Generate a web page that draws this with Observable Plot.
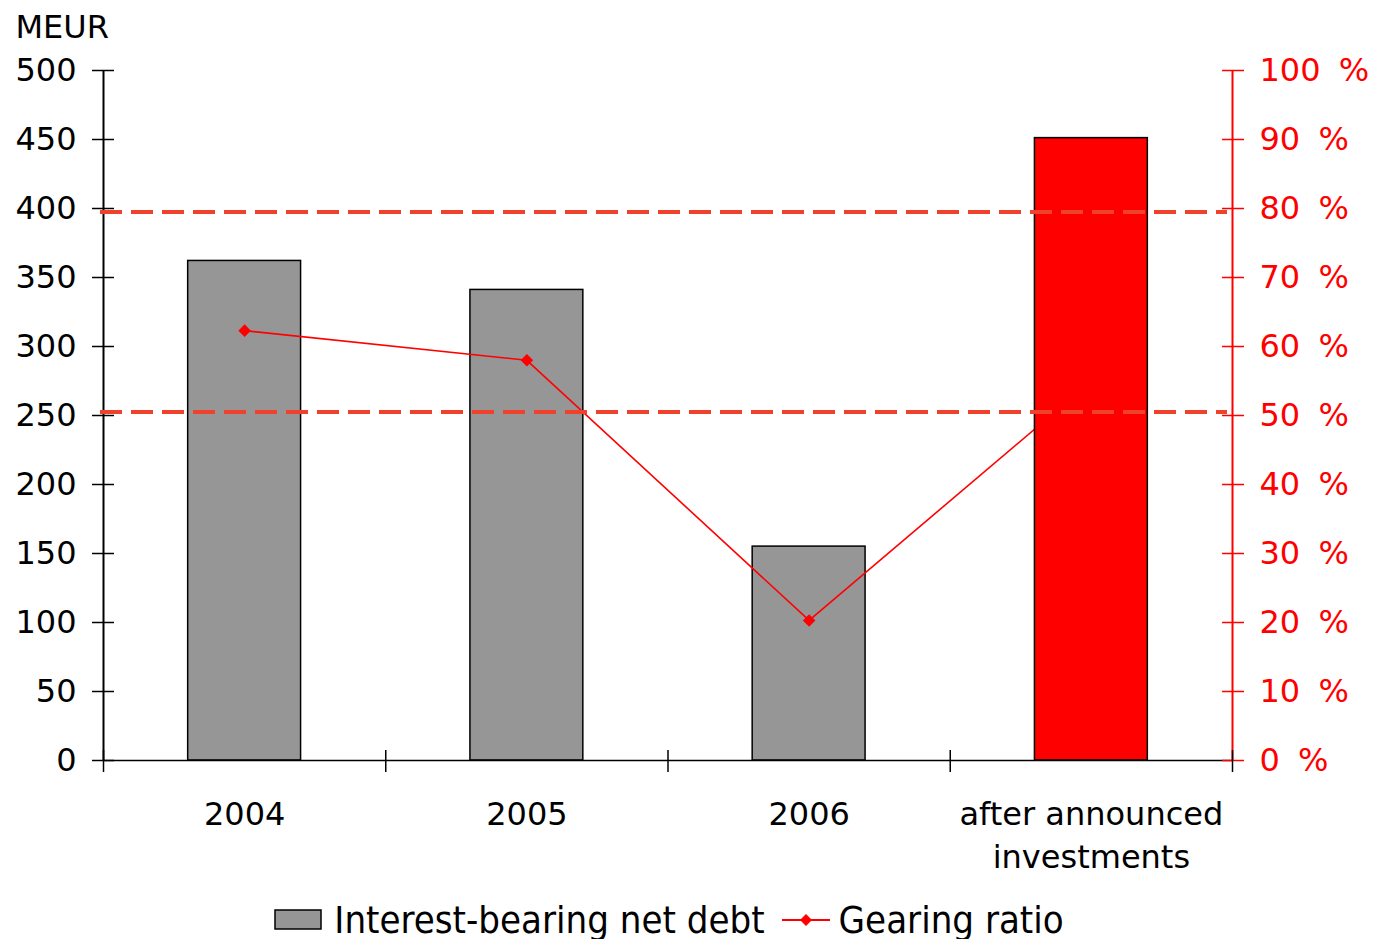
<!DOCTYPE html>
<html>
<head>
<meta charset="utf-8">
<script src="https://cdn.jsdelivr.net/npm/d3@7"></script>
<script src="https://cdn.jsdelivr.net/npm/@observablehq/plot@0.6"></script>
<style>
  html, body { margin: 0; padding: 0; background: #fff; }
  #chart svg { display: block; }
  #chart svg .pct text { word-spacing: 8px; }
  #legend {
    width: 1376px; height: 49px; display: flex; justify-content: center; align-items: center;
    font-family: "DejaVu Sans Condensed", "DejaVu Sans", sans-serif; font-size: 38px; color: #000;
    padding-top: 10px; padding-right: 38px; box-sizing: border-box; line-height: 1;
  }
  #legend .item { display: flex; align-items: center; }
  #legend svg { display: block; }
</style>
</head>
<body>
<div id="chart"></div>
<div id="legend">
  <span class="item"><svg width="60" height="24"><rect x="1" y="2" width="46" height="19" fill="#969696" stroke="#000" stroke-width="1.5"/></svg><span>Interest-bearing net debt</span></span>
  <span class="item" style="margin-left:16px"><svg width="58" height="24"><line x1="1" y1="12" x2="49" y2="12" stroke="#ff0000" stroke-width="2"/><path d="M25 6 L31 12 L25 18 L19 12 Z" fill="#ff0000"/></svg><span>Gearing ratio</span></span>
</div>
<script>
const categories = ["2004", "2005", "2006", "after announced\ninvestments"];
const debt = [362, 341, 155, 451];          // MEUR
const gearing = [62.3, 58.0, 20.3, 55.0];   // %
const barColors = ["#969696", "#969696", "#969696", "#ff0000"];
const yTicks = [0, 50, 100, 150, 200, 250, 300, 350, 400, 450, 500];
const pctTicks = [0, 10, 20, 30, 40, 50, 60, 70, 80, 90, 100];
const thresholds = [79.5, 50.5];           // % (dashed reference lines)
const boundaries = [0, 1, 2, 3, 4];

const PCT = 5; // 100 % on the right axis = 500 MEUR on the left axis

const rows = categories.map((c, i) => ({
  cat: c, i, debt: debt[i], gearing: gearing[i], color: barColors[i]
}));
const greyRows = rows.filter(d => d.color !== "#ff0000");
const redRows = rows.filter(d => d.color === "#ff0000");

const font = "DejaVu Sans, sans-serif";

const chart = Plot.plot({
  width: 1376,
  height: 890,
  marginLeft: 103,
  marginRight: 144,
  marginTop: 70,
  marginBottom: 130,
  style: { fontFamily: font, fontSize: "32px", background: "#fff" },
  x: { domain: [0, 4], label: null },
  y: { domain: [0, 500], label: null },
  marks: [
    Plot.rectY(greyRows, {
      x1: d => d.i + 0.3, x2: d => d.i + 0.7, y1: 0, y2: "debt",
      fill: "color", stroke: "#000", strokeWidth: 1.5
    }),
    Plot.line(rows, {
      x: d => d.i + 0.5, y: d => d.gearing * PCT,
      stroke: "#ff0000", strokeWidth: 1.6
    }),
    Plot.dot(rows, {
      x: d => d.i + 0.5, y: d => d.gearing * PCT,
      symbol: "square", rotate: 45, fill: "#ff0000", r: 5
    }),
    Plot.rectY(redRows, {
      x1: d => d.i + 0.3, x2: d => d.i + 0.7, y1: 0, y2: "debt",
      fill: "color", stroke: "#000", strokeWidth: 1.5
    }),
    Plot.ruleY([0], { stroke: "#000", strokeWidth: 1.5 }),
    Plot.ruleX([0], { stroke: "#000", strokeWidth: 2 }),
    Plot.axisY({ anchor: "left", label: null, ticks: yTicks, tickSize: 22, dx: 11, tickFormat: () => "", stroke: "#000", strokeWidth: 1.5 }),
    Plot.axisY({ anchor: "left", label: null, ticks: yTicks, tickSize: 0, tickPadding: 27, tickFormat: d => String(d), fill: "#000", fontSize: 32 }),
    Plot.ruleX([4], { stroke: "#ff0000", strokeWidth: 2 }),
    Plot.axisY({ anchor: "right", label: null, ticks: pctTicks.map(p => p * PCT), tickSize: 22, dx: -11, tickFormat: () => "", stroke: "#ff0000", strokeWidth: 1.5 }),
    Plot.axisY({ anchor: "right", label: null, ticks: pctTicks.map(p => p * PCT), tickSize: 0, tickPadding: 27, tickFormat: d => `${d / PCT} %`, fill: "#ff0000", fontSize: 32, className: "pct" }),
    Plot.axisX({ anchor: "bottom", label: null, ticks: boundaries, tickSize: 22, dy: -10, tickFormat: () => "", stroke: "#000", strokeWidth: 1.5 }),
    Plot.text(rows, {
      x: d => d.i + 0.5, text: "cat", frameAnchor: "bottom", lineAnchor: "top",
      dy: 34, lineHeight: 1.34, fontSize: 32, fill: "#000"
    }),
    Plot.ruleY(thresholds.map(t => t * PCT), {
      x1: 0, x2: 4, insetLeft: -3, insetRight: 5,
      stroke: "#f0412c", strokeWidth: 4, strokeDasharray: "22,9"
    }),
    Plot.text(["MEUR"], {
      frameAnchor: "top-left", dx: -88, dy: -43, textAnchor: "start", lineAnchor: "middle",
      text: d => d, fontSize: 32, fill: "#000"
    })
  ]
});
document.getElementById("chart").appendChild(chart);
</script>
</body>
</html>
